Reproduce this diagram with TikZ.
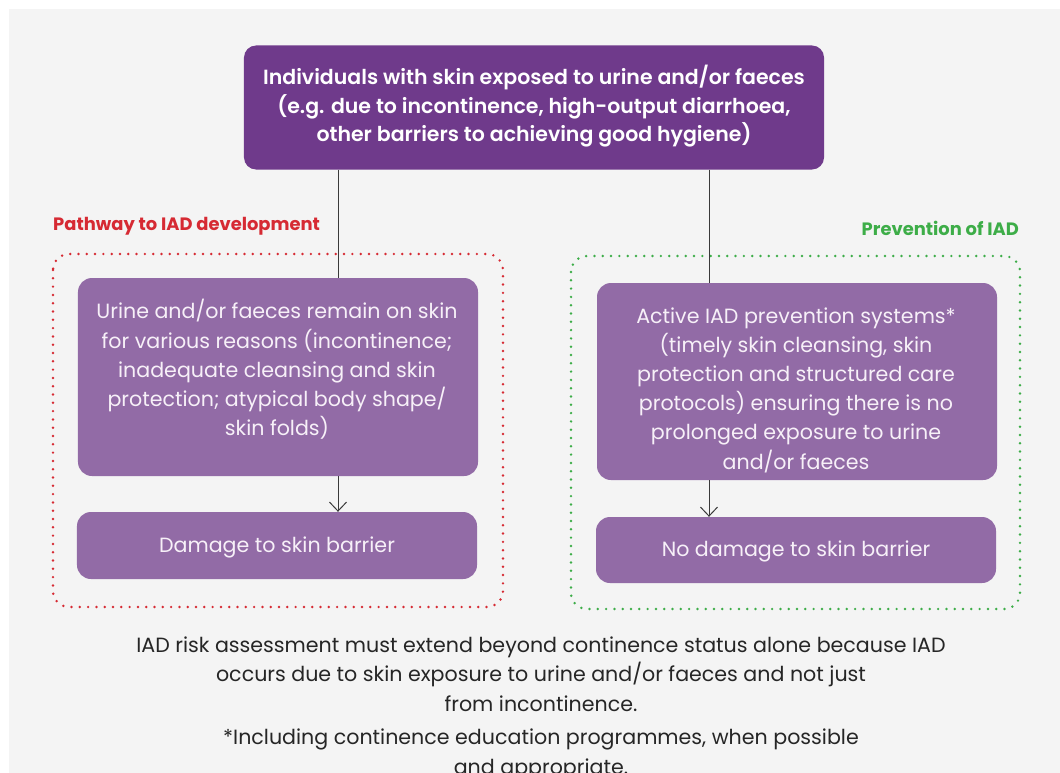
\documentclass[tikz,border=0pt]{standalone}
\usepackage{fontspec}
\setmainfont{Poppins}
\newfontfamily\semib{Poppins SemiBold}
\usetikzlibrary{arrows.meta}
\definecolor{bgc}{HTML}{F4F4F4}
\definecolor{darkp}{HTML}{6F3A8B}
\definecolor{midp}{HTML}{926BA6}
\definecolor{boxtxt}{HTML}{F7F0F8}
\definecolor{redc}{HTML}{D62A33}
\definecolor{greenc}{HTML}{3DAD48}
\definecolor{linec}{HTML}{3A3A3A}
\tikzset{
  topbox/.style={fill=darkp, draw=none, rounded corners=12bp, inner sep=0pt},
  pbox/.style={fill=midp, draw=none, rounded corners=14bp, inner sep=0pt, minimum width=400bp},
  toptxt/.style={text=white, align=center, inner sep=0pt, font={\fontsize{20.5bp}{28.5bp}\selectfont\semib}},
  btxt/.style={text=boxtxt, align=center, inner sep=0pt, font={\fontsize{20.6bp}{29.2bp}\selectfont}},
  note/.style={text=black!85, align=center, inner sep=0pt, font={\fontsize{20.6bp}{29.5bp}\selectfont}},
  lab/.style={inner sep=0pt, font={\fontsize{17.9bp}{20bp}\selectfont\bfseries}},
  dotbox/.style={line width=2.7bp, line cap=round, dash pattern=on 0pt off 8.3bp, rounded corners=16bp},
  conn/.style={draw=linec, line width=1bp},
  arr/.style={draw=linec, line width=1bp, -{Straight Barb[length=9bp,width=17bp,line width=1bp]}}
}
\begin{document}
\begin{tikzpicture}[x=1bp,y=-1bp]
\useasboundingbox (0,0) rectangle (1060,773);
\fill[bgc] (9,9) rectangle (1060,773);

% dotted frames
\draw[dotbox, draw=redc] (53,254) rectangle (503,607);
\draw[dotbox, draw=greenc] (571,256) rectangle (1020,609);

% labels
\node[lab, text=redc, anchor=west] (labL) at (53,226) {Pathway to IAD development};
\node[lab, text=greenc, anchor=east] (labR) at (1019,228) {Prevention of IAD};

% top box
\node[topbox, minimum width=580bp, minimum height=124bp] (top) at (534,107.5) {};
\node[toptxt] (toptext) at (534,106.5) {Individuals with skin exposed to urine and/or faeces\\(e.g. due to incontinence, high-output diarrhoea,\\other barriers to achieving good hygiene)};

% boxes
\node[pbox, minimum height=198bp] (b1) at (278,377) {};
\node[btxt] (b1text) at (277,369.5) {Urine and/or faeces remain on skin\\for various reasons (incontinence;\\inadequate cleansing and skin\\protection; atypical body shape/\\skin folds)};
\node[pbox, minimum height=67bp] (b2) at (277,545.5) {};
\node[btxt] (b2text) at (277,547.5) {Damage to skin barrier};

\node[pbox, minimum height=197bp] (b3) at (797,381.5) {};
\node[btxt] (b3text) at (796,390) {Active IAD prevention systems*\\(timely skin cleansing, skin\\protection and structured care\\protocols) ensuring there is no\\prolonged exposure to urine\\and/or faeces};
\node[pbox, minimum height=66bp] (b4) at (796,550) {};
\node[btxt] (b4text) at (796,551.5) {No damage to skin barrier};

% connector x positions
\coordinate (lx) at (338,0);
\coordinate (rx) at (709,0);

\draw[conn] (top.south -| lx) -- (b1.north -| lx);
\draw[conn] (top.south -| rx) -- (b3.north -| rx);
\draw[arr] (b1.south -| lx) -- (b2.north -| lx);
\draw[arr] (b3.south -| rx) -- (b4.north -| rx);

% notes
\node[note] (note1) at (541,674) {IAD risk assessment must extend beyond continence status alone because IAD\\occurs due to skin exposure to urine and/or faeces and not just\\from incontinence.};
\node[note] (note2) at (541,754.5) {*Including continence education programmes, when possible\\and appropriate.};
\end{tikzpicture}
\end{document}
